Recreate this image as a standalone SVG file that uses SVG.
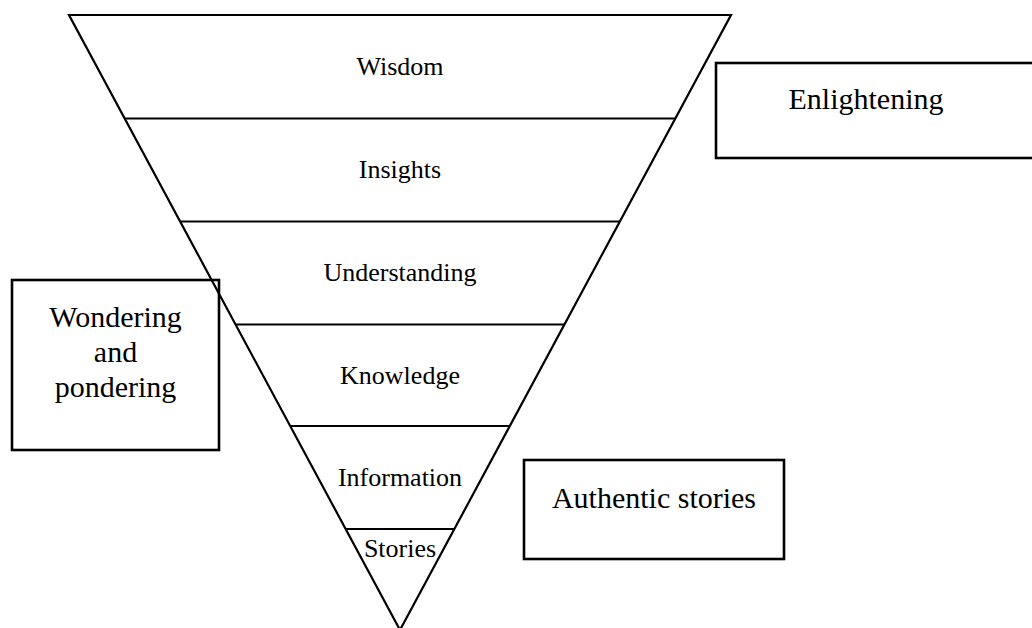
<svg xmlns="http://www.w3.org/2000/svg" width="1032" height="628" viewBox="0 0 1032 628">
<style>
.tri{fill:none;stroke:#000;stroke-width:2.2;stroke-linejoin:miter}
.band{stroke:#000;stroke-width:2.2}
.box{fill:none;stroke:#000;stroke-width:2.6}
.lbl{font-family:"Liberation Serif","Times New Roman",serif;font-size:26px;fill:#000;text-anchor:middle}
.blbl{font-family:"Liberation Serif","Times New Roman",serif;font-size:30px;fill:#000;text-anchor:middle}
</style>
<rect width="1032" height="628" fill="#fff"/>
<g id="pyramid">
<polygon class="tri" points="69,15 731,15 400,630"/>
</g>
<g id="connectors">
<line class="band" x1="124.7" y1="118.5" x2="675.3" y2="118.5"/>
<line class="band" x1="180.1" y1="221.5" x2="619.9" y2="221.5"/>
<line class="band" x1="235.6" y1="324.5" x2="564.4" y2="324.5"/>
<line class="band" x1="290.2" y1="426" x2="509.8" y2="426"/>
<line class="band" x1="345.6" y1="529" x2="454.4" y2="529"/>
</g>
<g id="wisdom"><text class="lbl" x="400" y="75">Wisdom</text></g>
<g id="insights"><text class="lbl" x="400" y="178">Insights</text></g>
<g id="understanding"><text class="lbl" x="400" y="281">Understanding</text></g>
<g id="knowledge"><text class="lbl" x="400" y="384">Knowledge</text></g>
<g id="information"><text class="lbl" x="400" y="486">Information</text></g>
<g id="stories"><text class="lbl" x="400" y="557">Stories</text></g>
<g id="enlightening">
<rect class="box" x="716" y="63" width="320" height="95"/>
<text class="blbl" x="866" y="109">Enlightening</text>
</g>
<g id="wondering">
<rect class="box" x="12" y="280" width="207" height="170"/>
<text class="blbl" x="115.5" y="327">Wondering</text>
<text class="blbl" x="115.5" y="362">and</text>
<text class="blbl" x="115.5" y="397">pondering</text>
</g>
<g id="authentic">
<rect class="box" x="524" y="460" width="260" height="99"/>
<text class="blbl" x="654" y="508">Authentic stories</text>
</g>
</svg>
